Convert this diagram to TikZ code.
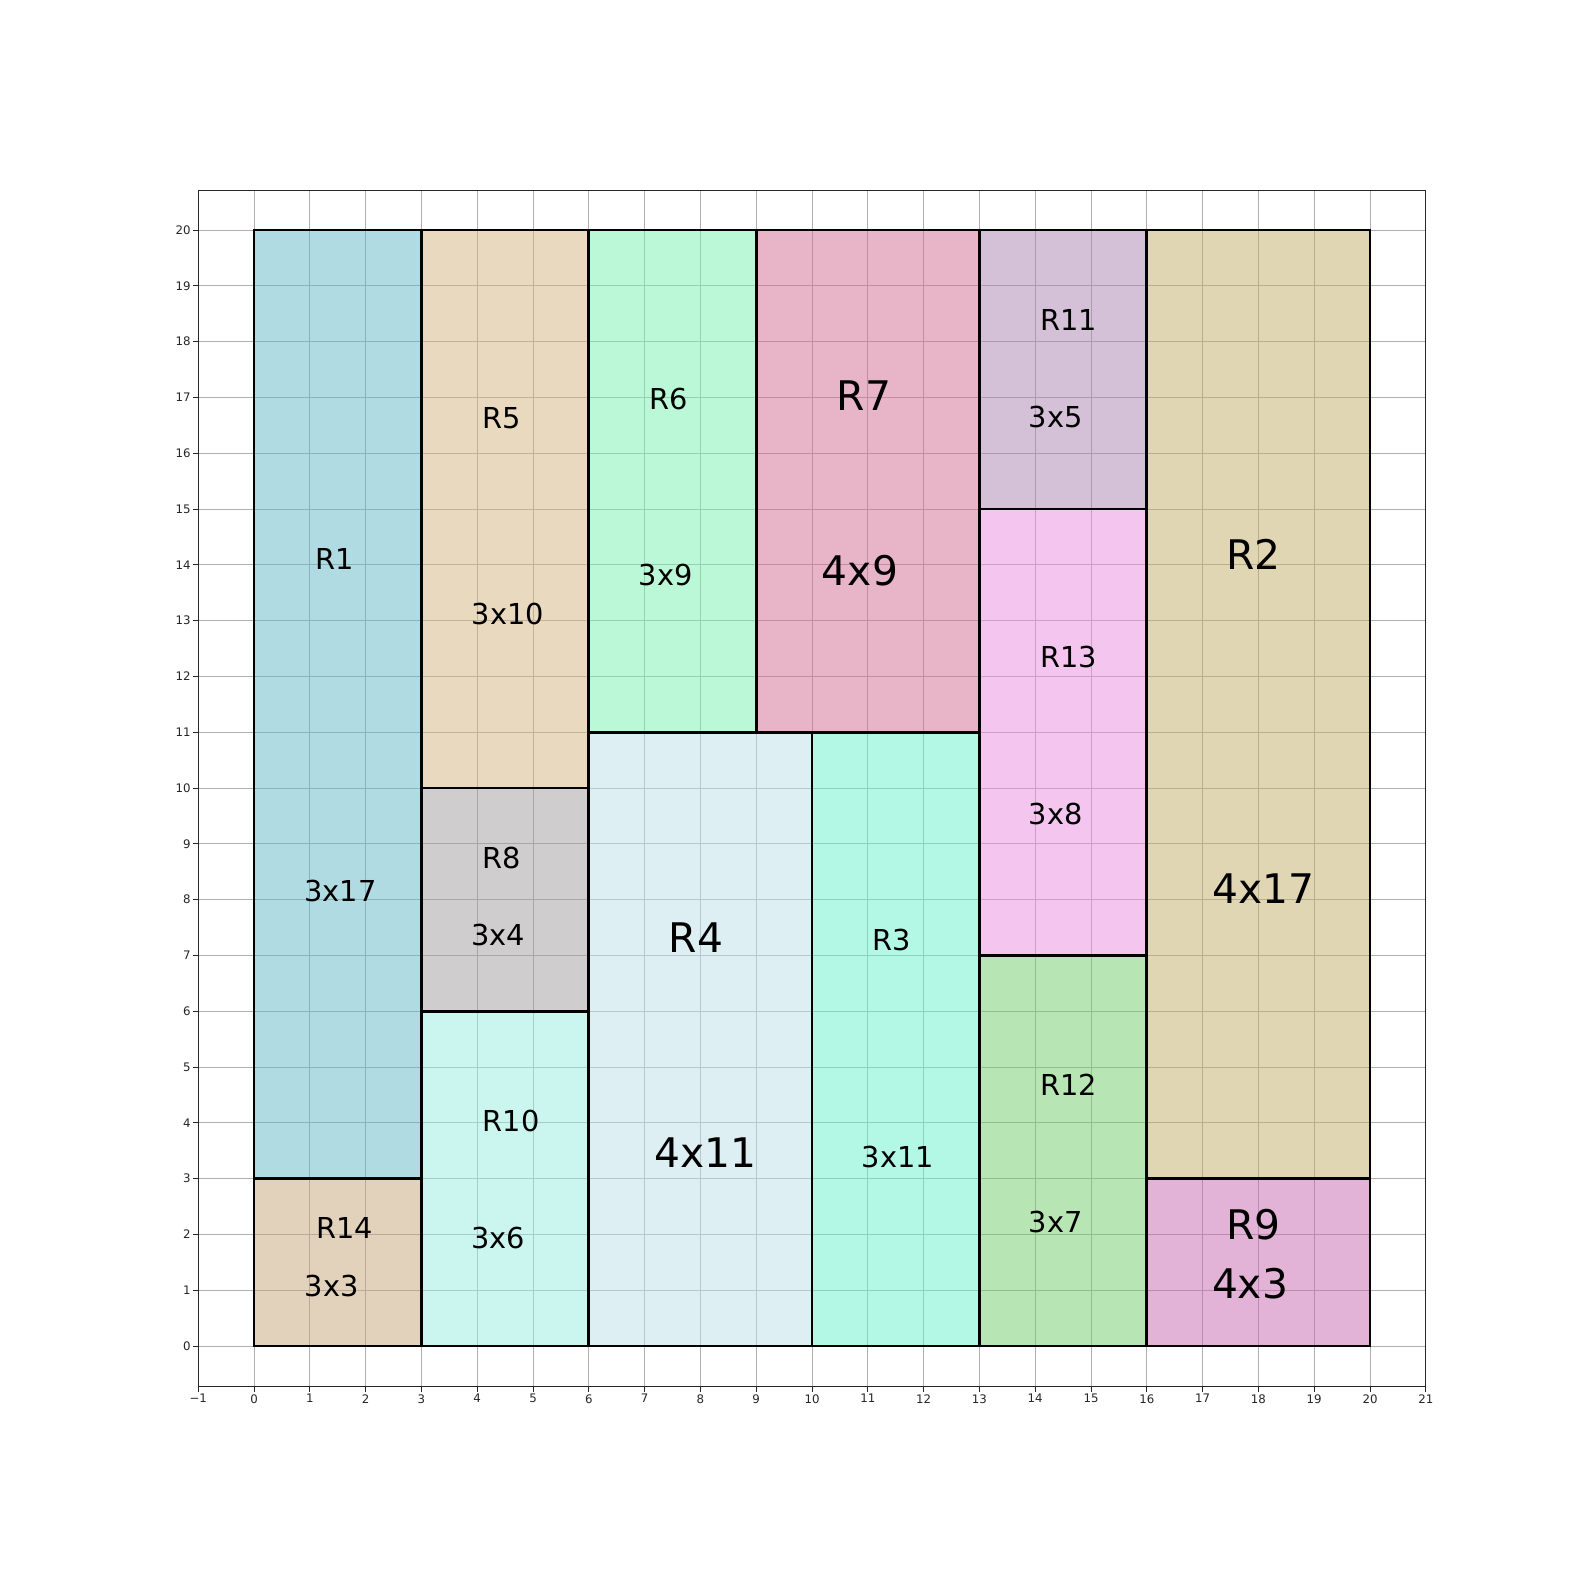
\documentclass[tikz,border=0pt]{standalone}
\usepackage{fontspec}
\setmainfont{DejaVu Sans}
\definecolor{gridc}{HTML}{B0B0B0}
\definecolor{axisc}{HTML}{262626}
% base colours, drawn at half opacity over the grid
\definecolor{rone}{RGB}{101,185,199}
\definecolor{rtwo}{RGB}{195,175,107}
\definecolor{rthree}{RGB}{105,241,205}
\definecolor{rfour}{RGB}{189,225,231}
\definecolor{rfive}{RGB}{213,183,129}
\definecolor{rsix}{RGB}{119,243,177}
\definecolor{rseven}{RGB}{211,107,145}
\definecolor{reight}{RGB}{161,157,159}
\definecolor{rnine}{RGB}{199,105,175}
\definecolor{rten}{RGB}{153,239,225}
\definecolor{releven}{RGB}{171,131,177}
\definecolor{rtwelve}{RGB}{113,205,105}
\definecolor{rthirteen}{RGB}{233,141,225}
\definecolor{rfourteen}{RGB}{199,167,123}

\begin{document}
\begin{tikzpicture}[
  x=1cm,y=1cm,
  gridline/.style={draw=gridc,line width=0.5pt},
  room/.style={draw=black,line width=1.4pt,fill opacity=0.5},
  lab/.style={inner sep=0pt,text=black,font=\fontsize{14.7}{17}\selectfont},
  biglab/.style={inner sep=0pt,text=black,font=\fontsize{20.8}{24}\selectfont},
  tick/.style={inner sep=0pt,text=axisc,font=\fontsize{6}{7}\selectfont},
]
  \useasboundingbox (-4.552,-4.265) rectangle (23.835,24.122);
  \fill[white] (-4.552,-4.265) rectangle (23.835,24.122);

  % grid
  \draw[gridline] (-1,-0.73) grid (21,20.71);

  % rooms
  \draw[room,fill=rone]      (0,3)   rectangle (3,20);
  \draw[room,fill=rfourteen] (0,0)   rectangle (3,3);
  \draw[room,fill=rfive]     (3,10)  rectangle (6,20);
  \draw[room,fill=reight]    (3,6)   rectangle (6,10);
  \draw[room,fill=rten]      (3,0)   rectangle (6,6);
  \draw[room,fill=rsix]      (6,11)  rectangle (9,20);
  \draw[room,fill=rfour]     (6,0)   rectangle (10,11);
  \draw[room,fill=rseven]    (9,11)  rectangle (13,20);
  \draw[room,fill=rthree]    (10,0)  rectangle (13,11);
  \draw[room,fill=releven]   (13,15) rectangle (16,20);
  \draw[room,fill=rthirteen] (13,7)  rectangle (16,15);
  \draw[room,fill=rtwelve]   (13,0)  rectangle (16,7);
  \draw[room,fill=rtwo]      (16,3)  rectangle (20,20);
  \draw[room,fill=rnine]     (16,0)  rectangle (20,3);

  % labels
  \node[lab] (n1)  at (1.45,14.10) {R1};
  \node[lab] (s1)  at (1.55,8.15)  {3x17};
  \node[lab] (n14) at (1.62,2.12)  {R14};
  \node[lab] (s14) at (1.39,1.07)  {3x3};
  \node[lab] (n5)  at (4.44,16.62) {R5};
  \node[lab] (s5)  at (4.55,13.11) {3x10};
  \node[lab] (n8)  at (4.44,8.75)  {R8};
  \node[lab] (s8)  at (4.38,7.36)  {3x4};
  \node[lab] (n10) at (4.61,4.04)  {R10};
  \node[lab] (s10) at (4.38,1.94)  {3x6};
  \node[lab] (n6)  at (7.43,16.97) {R6};
  \node[lab] (s6)  at (7.38,13.82) {3x9};
  \node[biglab] (n7) at (10.93,17.04) {R7};
  \node[biglab] (s7) at (10.86,13.89) {4x9};
  \node[biglab] (n4) at (7.92,7.32)  {R4};
  \node[biglab] (s4) at (8.09,3.46)  {4x11};
  \node[lab] (n3)  at (11.43,7.27) {R3};
  \node[lab] (s3)  at (11.54,3.39) {3x11};
  \node[lab] (n11) at (14.60,18.39) {R11};
  \node[lab] (s11) at (14.37,16.64) {3x5};
  \node[lab] (n13) at (14.60,12.34) {R13};
  \node[lab] (s13) at (14.37,9.53)  {3x8};
  \node[lab] (n12) at (14.60,4.69)  {R12};
  \node[lab] (s12) at (14.37,2.23)  {3x7};
  \node[biglab] (n2) at (17.91,14.18) {R2};
  \node[biglab] (s2) at (18.09,8.20)  {4x17};
  \node[biglab] (n9) at (17.91,2.18)  {R9};
  \node[biglab] (s9) at (17.85,1.12)  {4x3};

  % axes frame and ticks
  \draw[axisc,line width=0.5pt] (-1,-0.73) rectangle (21,20.71);
  \foreach \i in {-1,...,21}{
    \draw[axisc,line width=0.5pt] (\i,-0.73) -- ++(0,-0.09);
    \node[tick,anchor=north] (xt\i) at (\i,-0.86)
      {\ifnum\i<0 −\the\numexpr-\i\relax\else\i\fi};
  }
  \foreach \j in {0,...,20}{
    \draw[axisc,line width=0.5pt] (-1,\j) -- ++(-0.09,0);
    \node[tick,anchor=east] (yt\j) at (-1.13,\j) {\j};
  }
\end{tikzpicture}
\end{document}
